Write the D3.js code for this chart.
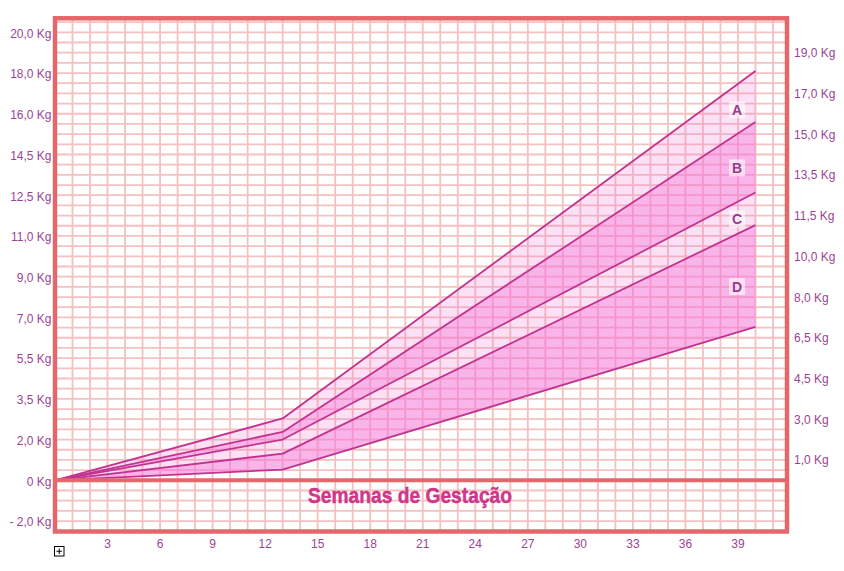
<!DOCTYPE html>
<html>
<head>
<meta charset="utf-8">
<script src="https://cdn.jsdelivr.net/npm/d3@7"></script>
<style>
  html, body { margin: 0; padding: 0; background: #ffffff; }
  svg { display: block; }
</style>
</head>
<body>
<svg id="chart" width="844" height="571"></svg>
<script>
// ---- data ----
const weeks = [0, 13, 40];
const lineA = [0, 2.76, 18.27];   // top curve
const lineB = [0, 2.16, 16.0];
const lineC = [0, 1.82, 12.85];
const lineD = [0, 1.19, 11.39];
const lineE = [0, 0.48, 6.85];    // bottom curve
const bandLabels = ["A", "B", "C", "D"];
const bandLabelWeek = 38.95;
const bandLabelKg = [16.54, 13.95, 11.67, 8.65];
const xTickValues = [3, 6, 9, 12, 15, 18, 21, 24, 27, 30, 33, 36, 39];
const leftTickLabels = ["20,0 Kg", "18,0 Kg", "16,0 Kg", "14,5 Kg", "12,5 Kg", "11,0 Kg", "9,0 Kg", "7,0 Kg", "5,5 Kg", "3,5 Kg", "2,0 Kg", "0 Kg", "- 2,0 Kg"];
const rightTickLabels = ["19,0 Kg", "17,0 Kg", "15,0 Kg", "13,5 Kg", "11,5 Kg", "10,0 Kg", "8,0 Kg", "6,5 Kg", "4,5 Kg", "3,0 Kg", "1,0 Kg"];
const xTitle = "Semanas de Gestação";

// ---- layout ----
const svg = d3.select("#chart");
const frame = { left: 55, right: 787, top: 18.3, bottom: 531.5 };
const x = d3.scaleLinear().domain([0, 41.8]).range([frame.left, frame.right]);
const y = d3.scaleLinear().domain([0, 20]).range([480.3, 32.3]);
const rowKg = 20 / 44;   // one grid row
const frameCol = "#e2686b";
const gridCol = "#f5c0c0";
const labelCol = "#9b4493";

svg.append("rect").attr("x", 0).attr("y", 0).attr("width", 844).attr("height", 571).attr("fill", "#fff");

// grid
const g = svg.append("g");
d3.range(1, 42).forEach(w => {
  g.append("line").attr("x1", x(w)).attr("x2", x(w))
    .attr("y1", frame.top).attr("y2", frame.bottom)
    .attr("stroke", gridCol).attr("stroke-width", 1.8);
});
d3.range(-4, 46).forEach(r => {
  if (r === 0) return;
  g.append("line").attr("x1", frame.left).attr("x2", frame.right)
    .attr("y1", y(r * rowKg)).attr("y2", y(r * rowKg))
    .attr("stroke", gridCol).attr("stroke-width", 1.8);
});

// bands
const series = [lineA, lineB, lineC, lineD, lineE];
const bandFill = ["rgba(243,115,211,0.22)", "rgba(243,112,212,0.52)", "rgba(243,115,211,0.22)", "rgba(243,112,212,0.52)"];
for (let i = 0; i < 4; i++) {
  const top = series[i], bot = series[i + 1];
  const pts = weeks.map((w, k) => ({ w, hi: top[k], lo: bot[k] }));
  const area = d3.area().x(d => x(d.w)).y0(d => y(d.lo)).y1(d => y(d.hi));
  svg.append("path").attr("d", area(pts)).attr("fill", bandFill[i]);
}

// lines
const line = d3.line().x(d => x(d[0])).y(d => y(d[1]));
series.forEach(s => {
  svg.append("path").attr("d", line(weeks.map((w, k) => [w, s[k]])))
    .attr("fill", "none").attr("stroke", "#c2338f").attr("stroke-width", 1.8)
    .attr("stroke-linejoin", "round");
});

// band labels
bandLabels.forEach((t, i) => {
  const cx = x(bandLabelWeek), cy = y(bandLabelKg[i]);
  svg.append("rect").attr("x", cx - 8).attr("y", cy - 8.5).attr("width", 16).attr("height", 17)
    .attr("fill", "rgba(255,255,255,0.6)");
  svg.append("text").attr("x", cx).attr("y", cy + 5)
    .attr("text-anchor", "middle").attr("font-family", "Liberation Sans, Arial, sans-serif")
    .attr("font-weight", "bold").attr("font-size", 14).attr("fill", "#9a3a8e").text(t);
});

// frame + zero line
svg.append("line").attr("x1", frame.left).attr("x2", frame.right).attr("y1", y(0)).attr("y2", y(0))
  .attr("stroke", frameCol).attr("stroke-width", 4);
svg.append("rect").attr("x", frame.left).attr("y", frame.top)
  .attr("width", frame.right - frame.left).attr("height", frame.bottom - frame.top)
  .attr("fill", "none").attr("stroke", frameCol).attr("stroke-width", 4.5);

// x title
svg.append("text").attr("x", 410).attr("y", 503)
  .attr("text-anchor", "middle")
  .attr("font-family", "Liberation Sans Narrow, Liberation Sans, Arial, sans-serif")
  .attr("font-weight", "bold").attr("font-size", 22)
  .attr("textLength", 204).attr("lengthAdjust", "spacingAndGlyphs")
  .attr("fill", "#d2388b").attr("stroke", "#c02e80").attr("stroke-width", 0.4)
  .text(xTitle);

// axes
const font = "Liberation Sans, Arial, Helvetica, sans-serif";
xTickValues.forEach(v => {
  svg.append("text").attr("x", x(v)).attr("y", 547.5).attr("text-anchor", "middle")
    .attr("font-family", font).attr("font-size", 12).attr("fill", labelCol).text(v);
});
leftTickLabels.forEach((t, i) => {
  const r = 44 - 4 * i;
  svg.append("text").attr("x", 51.5).attr("y", y(r * rowKg) + 5.3).attr("text-anchor", "end")
    .attr("font-family", font).attr("font-size", 12).attr("fill", labelCol).text(t);
});
rightTickLabels.forEach((t, i) => {
  const r = 42 - 4 * i;
  svg.append("text").attr("x", 794).attr("y", y(r * rowKg) + 4.5).attr("text-anchor", "start")
    .attr("font-family", font).attr("font-size", 12).attr("fill", labelCol).text(t);
});

// small expand icon
svg.append("rect").attr("x", 54.5).attr("y", 546.5).attr("width", 9.5).attr("height", 9.5)
  .attr("fill", "#fff").attr("stroke", "#000").attr("stroke-width", 1);
svg.append("line").attr("x1", 56.5).attr("x2", 62).attr("y1", 551.25).attr("y2", 551.25).attr("stroke", "#000").attr("stroke-width", 1);
svg.append("line").attr("x1", 59.25).attr("x2", 59.25).attr("y1", 548.5).attr("y2", 554).attr("stroke", "#000").attr("stroke-width", 1);
</script>
</body>
</html>
